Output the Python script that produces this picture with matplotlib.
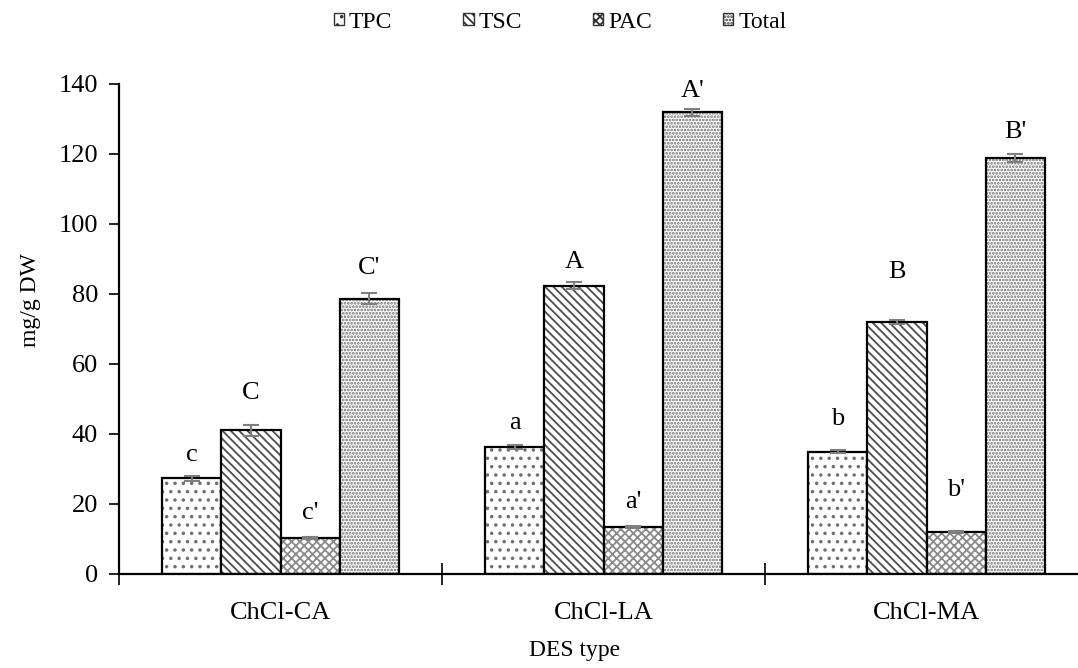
import matplotlib
matplotlib.use("Agg")
import matplotlib.pyplot as plt
import numpy as np
from matplotlib.patches import Patch

# data
categories = ['ChCl-CA', 'ChCl-LA', 'ChCl-MA']
series = ['TPC', 'TSC', 'PAC', 'Total']
tpc = [27.3, 36.2, 35.0]
tsc = [41.1, 82.4, 72.0]
pac = [10.2, 13.4, 12.1]
total = [78.7, 131.9, 118.9]
tpc_err = [0.6, 0.6, 0.5]
tsc_err = [1.6, 1.0, 0.7]
pac_err = [0.3, 0.3, 0.3]
total_err = [1.6, 1.0, 1.1]
tpc_lbl = ['c', 'a', 'b']
tsc_lbl = ['C', 'A', 'B']
pac_lbl = ["c'", "a'", "b'"]
total_lbl = ["C'", "A'", "B'"]

values = [tpc, tsc, pac, total]
errors = [tpc_err, tsc_err, pac_err, total_err]
labels = [tpc_lbl, tsc_lbl, pac_lbl, total_lbl]
# gap between bar top and letter (data units), per series / category
lbl_gap = [[6.7, 6.9, 9.3], [10.6, 6.7, 14.3], [7.2, 7.2, 12.0], [8.7, 6.0, 7.4]]

hatches = ['..', '\\\\\\\\', 'xxxx', '.....']
hatch_cols = ['#707070', '#4d4d4d', '#8a8a8a', '#6e6e6e']

plt.rcParams['font.family'] = ['Liberation Serif', 'DejaVu Serif']
plt.rcParams['hatch.linewidth'] = 1.3

fig = plt.figure(figsize=(10.78, 6.68), dpi=100)
ax = fig.add_axes([119 / 1078, 1 - 574 / 668, 969 / 1078, 490 / 668])

x = np.arange(len(categories))
w = 0.183
handles = []
for i, (vals, errs, lbls) in enumerate(zip(values, errors, labels)):
    pos = x + (i - 1.5) * w
    # hatch layer, then black outline on top
    ax.bar(pos, vals, w, color='white', edgecolor=hatch_cols[i], hatch=hatches[i], linewidth=0)
    ax.bar(pos, vals, w, color='none', edgecolor='black', linewidth=1.6)
    ax.errorbar(pos, vals, yerr=errs, fmt='none', ecolor='#7f7f7f', elinewidth=1.5,
                capsize=6, capthick=1.5)
    for p, v, e, t, g in zip(pos, vals, errs, lbls, lbl_gap[i]):
        ax.text(p, v + g, t, ha='center', va='center', fontsize=19)
    handles.append(Patch(facecolor='white', edgecolor='#333333', hatch=hatches[i],
                         linewidth=1.0, label=series[i]))

ax.set_xlim(-0.5, 2.5)
ax.set_ylim(0, 140)
ax.set_yticks(np.arange(0, 141, 20))
ax.set_xticks(x)
ax.set_xticklabels(categories)
ax.set_xticks([-0.5, 0.5, 1.5, 2.5], minor=True)
ax.tick_params(axis='x', which='major', length=0, pad=20, labelsize=19)
ax.tick_params(axis='x', which='minor', direction='inout', length=16, width=1.2)
ax.tick_params(axis='y', direction='out', length=7, width=1.2, pad=8, labelsize=19)
for s in ['top', 'right']:
    ax.spines[s].set_visible(False)
for s in ['left', 'bottom']:
    ax.spines[s].set_linewidth(1.6)

ax.set_xlabel('DES type', fontsize=17)
ax.xaxis.set_label_coords(0.47, -0.135)
ax.set_ylabel('mg/g DW', fontsize=17)
ax.yaxis.set_label_coords(-0.08, 0.56)

fig.legend(handles=handles, loc='center', bbox_to_anchor=(560 / 1078, 1 - 22 / 668),
           ncol=4, frameon=False, fontsize=17, handlelength=0.45, handleheight=0.45,
           handletextpad=0.2, columnspacing=3.0)

fig.savefig('out.png', dpi=100)
